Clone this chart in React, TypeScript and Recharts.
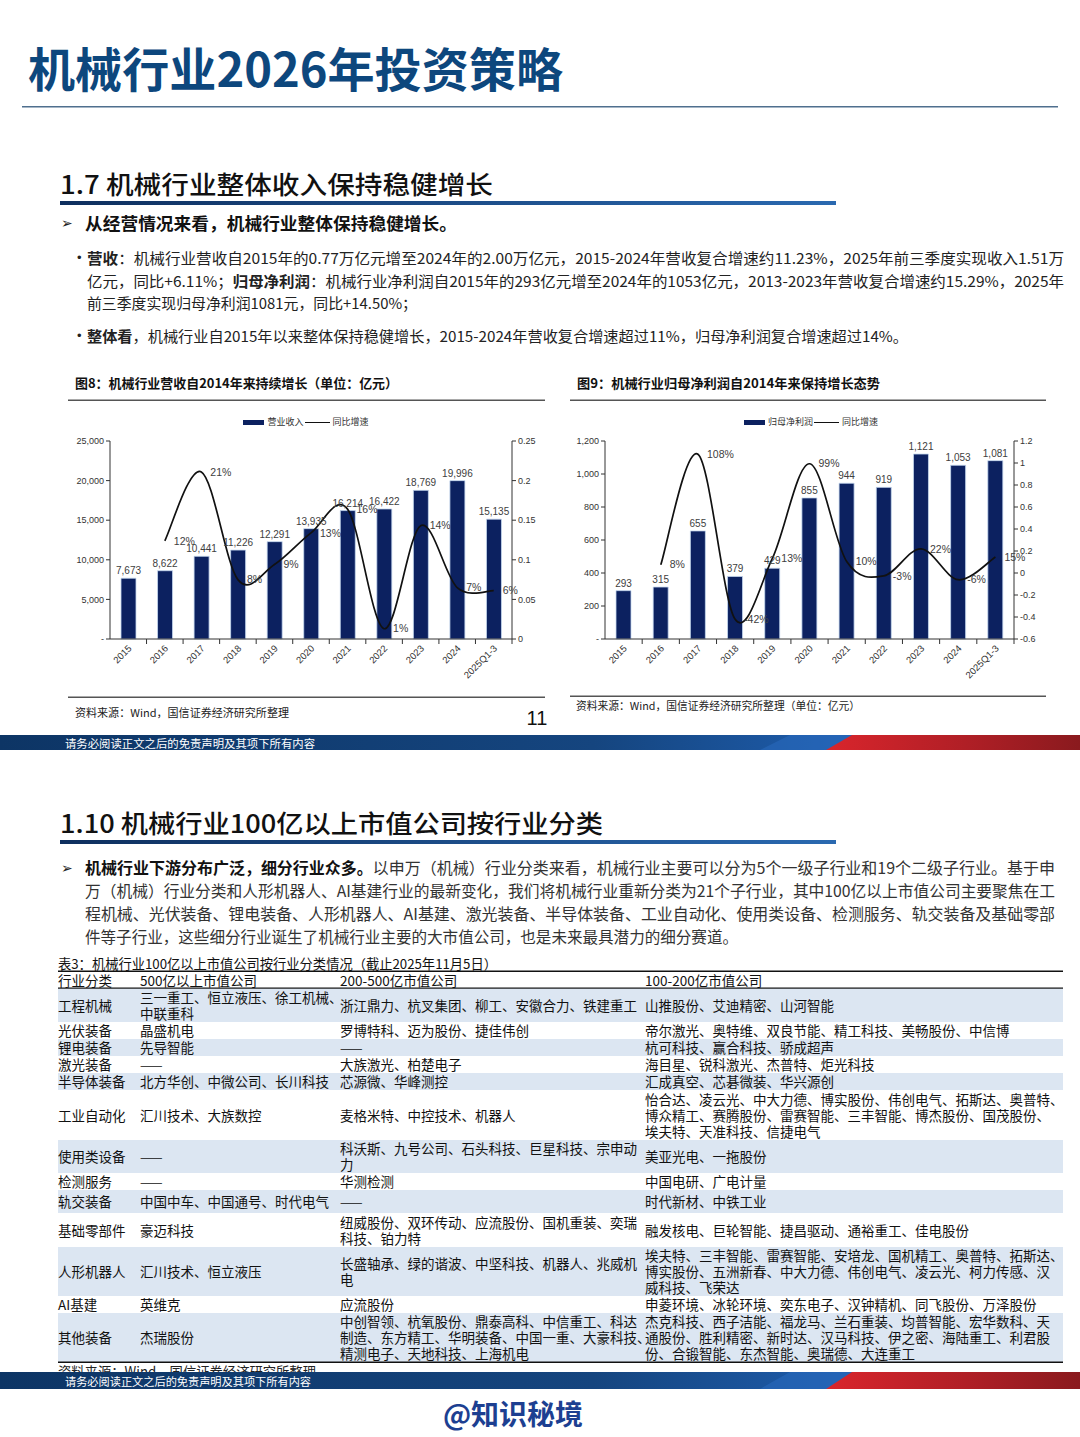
import React from 'react';
import { ComposedChart, Bar, Line, XAxis, YAxis, LabelList, Legend } from 'recharts';

// ---------- chart data ----------
const years = ['2015', '2016', '2017', '2018', '2019', '2020', '2021', '2022', '2023', '2024', '2025Q1-3'];
const revenue = [7673, 8622, 10441, 11226, 12291, 13935, 16214, 16422, 18769, 19996, 15135];
const revenueYoY = [null, 0.124, 0.211, 0.075, 0.094, 0.134, 0.164, 0.013, 0.143, 0.065, 0.061];
const profit = [293, 315, 655, 379, 429, 855, 944, 919, 1121, 1053, 1081];
const profitYoY = [null, 0.075, 1.08, -0.421, 0.132, 0.993, 0.104, -0.026, 0.22, -0.061, 0.1451];

const revenueLeftTicks = [0, 5000, 10000, 15000, 20000, 25000];
const revenueRightTicks = [0, 0.05, 0.1, 0.15, 0.2, 0.25];
const profitLeftTicks = [0, 200, 400, 600, 800, 1000, 1200];
const profitRightTicks = [-0.6, -0.4, -0.2, 0, 0.2, 0.4, 0.6, 0.8, 1, 1.2];

const revenueData = years.map((y, i) => ({ year: y, value: revenue[i], yoy: revenueYoY[i] }));
const profitData = years.map((y, i) => ({ year: y, value: profit[i], yoy: profitYoY[i] }));

// ---------- styles ----------
const FONT_CJK = "'Noto Sans CJK SC', 'Noto Sans', sans-serif";
const FONT_CHART = "'Liberation Sans', Arial, 'Noto Sans CJK SC', sans-serif";
const BAR = '#0c2160';
const AXIS = '#333333';

// Excel-like smoothed line (Catmull-Rom as cubic Bezier)
const excelSmooth: any = (context: any) => {
  let pts: number[][] = [];
  return {
    areaStart() {},
    areaEnd() {},
    lineStart() {
      pts = [];
    },
    lineEnd() {
      const n = pts.length;
      if (!n) return;
      context.moveTo(pts[0][0], pts[0][1]);
      const t = 1 / 6;
      for (let i = 0; i < n - 1; i++) {
        const p0 = pts[i - 1] || pts[i];
        const p1 = pts[i];
        const p2 = pts[i + 1];
        const p3 = pts[i + 2] || p2;
        context.bezierCurveTo(
          p1[0] + (p2[0] - p0[0]) * t,
          p1[1] + (p2[1] - p0[1]) * t,
          p2[0] - (p3[0] - p1[0]) * t,
          p2[1] - (p3[1] - p1[1]) * t,
          p2[0],
          p2[1]
        );
      }
    },
    point(x: number, y: number) {
      pts.push([+x, +y]);
    },
  };
};

const makeXTick = (band: number) => (props: any) => {
  const { x, y, payload } = props;
  const ax = x + 4;
  const ay = y + 10;
  return (
    <g>
      <line x1={x + band / 2} x2={x + band / 2} y1={y} y2={y + 5} stroke={AXIS} strokeWidth={1} />
      <text x={ax} y={ay} textAnchor="end" transform={`rotate(-45, ${ax}, ${ay})`} fontSize={9.5} fill={AXIS}>
        {payload.value}
      </text>
    </g>
  );
};

const LegendContent = (props: any) => {
  const payload = [...(props.payload || [])].sort((a: any, b: any) => (a.type === 'line' ? 1 : 0) - (b.type === 'line' ? 1 : 0));
  return (
    <div
      style={{
        height: 26,
        display: 'flex',
        justifyContent: 'center',
        alignItems: 'flex-start',
        fontSize: 9,
        lineHeight: '14px',
        color: '#333',
        fontFamily: FONT_CJK,
      }}
    >
      {payload.map((p: any, i: number) => (
        <span key={i} style={{ display: 'flex', alignItems: 'flex-start' }}>
          {p.type === 'line' ? (
            <span style={{ display: 'inline-block', width: 25, height: 1.6, background: '#111', margin: '6.5px 3px 0 1px' }} />
          ) : (
            <span style={{ display: 'inline-block', width: 21, height: 5, background: BAR, margin: '4.5px 3px 0 0' }} />
          )}
          <span>{p.value}</span>
        </span>
      ))}
    </div>
  );
};

const leftFmt = (v: number) => (v === 0 ? '-' : v.toLocaleString('en-US'));
const pctFmt = (v: any) => (v == null ? '' : `${Math.round(Number(v) * 100)}%`);
const numFmt = (v: any) => Number(v).toLocaleString('en-US');

type ChartProps = {
  data: any[];
  left: number;
  top: number;
  barName: string;
  leftTicks: number[];
  rightTicks: number[];
  leftW: number;
  rightW: number;
  band: number;
};

function DualChart({ data, left, top, barName, leftTicks, rightTicks, leftW, rightW, band }: ChartProps) {
  return (
    <div style={{ position: 'absolute', left, top }}>
      <ComposedChart
        width={490}
        height={300}
        data={data}
        margin={{ top: 10, right: 3, left: 5, bottom: 11 }}
        style={{ fontFamily: FONT_CHART }}
      >
        <Legend verticalAlign="top" align="center" content={<LegendContent />} />
        <XAxis
          dataKey="year"
          interval={0}
          tickSize={0}
          tickMargin={0}
          height={55}
          axisLine={{ stroke: AXIS }}
          tickLine={false}
          tick={makeXTick(band)}
        />
        <YAxis
          yAxisId="left"
          width={leftW}
          domain={[leftTicks[0], leftTicks[leftTicks.length - 1]]}
          ticks={leftTicks}
          tickFormatter={leftFmt}
          tick={{ fontSize: 9, fill: AXIS }}
          tickSize={4}
          tickMargin={2}
          axisLine={{ stroke: AXIS }}
          tickLine={{ stroke: AXIS }}
          interval={0}
        />
        <YAxis
          yAxisId="right"
          orientation="right"
          width={rightW}
          domain={[rightTicks[0], rightTicks[rightTicks.length - 1]]}
          ticks={rightTicks}
          tickFormatter={(v: number) => String(v)}
          tick={{ fontSize: 9, fill: AXIS }}
          tickSize={4}
          tickMargin={2}
          axisLine={{ stroke: AXIS }}
          tickLine={{ stroke: AXIS }}
          interval={0}
        />
        <Bar
          yAxisId="left"
          dataKey="value"
          name={barName}
          legendType="rect"
          fill={BAR}
          stroke="#c6d9f0"
          strokeWidth={0.8}
          barSize={15}
          isAnimationActive={false}
        >
          <LabelList dataKey="value" position="top" offset={4} formatter={numFmt} fill="#404040" fontSize={10} />
        </Bar>
        <Line
          yAxisId="right"
          dataKey="yoy"
          name="同比增速"
          legendType="line"
          type={excelSmooth}
          stroke="#111"
          strokeWidth={1.7}
          dot={false}
          activeDot={false}
          isAnimationActive={false}
        >
          <LabelList dataKey="yoy" position="right" offset={9} formatter={pctFmt} fill="#404040" fontSize={10.5} />
        </Line>
      </ComposedChart>
    </div>
  );
}

// ---------- table content ----------
const tableCols = [58, 140, 340, 645];
const tableHeader = ['行业分类', '500亿以上市值公司', '200-500亿市值公司', '100-200亿市值公司'];
const tableRows: { y0: number; y1: number; cells: string[][] }[] = [
  { y0: 988, y1: 1022, cells: [['工程机械'], ['三一重工、恒立液压、徐工机械、', '中联重科'], ['浙江鼎力、杭叉集团、柳工、安徽合力、铁建重工'], ['山推股份、艾迪精密、山河智能']] },
  { y0: 1022, y1: 1039, cells: [['光伏装备'], ['晶盛机电'], ['罗博特科、迈为股份、捷佳伟创'], ['帝尔激光、奥特维、双良节能、精工科技、美畅股份、中信博']] },
  { y0: 1039, y1: 1056, cells: [['锂电装备'], ['先导智能'], ['——'], ['杭可科技、赢合科技、骄成超声']] },
  { y0: 1056, y1: 1073, cells: [['激光装备'], ['——'], ['大族激光、柏楚电子'], ['海目星、锐科激光、杰普特、炬光科技']] },
  { y0: 1073, y1: 1090, cells: [['半导体装备'], ['北方华创、中微公司、长川科技'], ['芯源微、华峰测控'], ['汇成真空、芯碁微装、华兴源创']] },
  {
    y0: 1090,
    y1: 1140,
    cells: [
      ['工业自动化'],
      ['汇川技术、大族数控'],
      ['麦格米特、中控技术、机器人'],
      ['怡合达、凌云光、中大力德、博实股份、伟创电气、拓斯达、奥普特、', '博众精工、赛腾股份、雷赛智能、三丰智能、博杰股份、国茂股份、', '埃夫特、天准科技、信捷电气'],
    ],
  },
  { y0: 1140, y1: 1173, cells: [['使用类设备'], ['——'], ['科沃斯、九号公司、石头科技、巨星科技、宗申动', '力'], ['美亚光电、一拖股份']] },
  { y0: 1173, y1: 1190, cells: [['检测服务'], ['——'], ['华测检测'], ['中国电研、广电计量']] },
  { y0: 1190, y1: 1213, cells: [['轨交装备'], ['中国中车、中国通号、时代电气'], ['——'], ['时代新材、中铁工业']] },
  { y0: 1213, y1: 1247, cells: [['基础零部件'], ['豪迈科技'], ['纽威股份、双环传动、应流股份、国机重装、奕瑞', '科技、铂力特'], ['融发核电、巨轮智能、捷昌驱动、通裕重工、佳电股份']] },
  {
    y0: 1247,
    y1: 1296,
    cells: [
      ['人形机器人'],
      ['汇川技术、恒立液压'],
      ['长盛轴承、绿的谐波、中坚科技、机器人、兆威机', '电'],
      ['埃夫特、三丰智能、雷赛智能、安培龙、国机精工、奥普特、拓斯达、', '博实股份、五洲新春、中大力德、伟创电气、凌云光、柯力传感、汉', '威科技、飞荣达'],
    ],
  },
  { y0: 1296, y1: 1313, cells: [['AI基建'], ['英维克'], ['应流股份'], ['申菱环境、冰轮环境、奕东电子、汉钟精机、同飞股份、万泽股份']] },
  {
    y0: 1313,
    y1: 1362,
    cells: [
      ['其他装备'],
      ['杰瑞股份'],
      ['中创智领、杭氧股份、鼎泰高科、中信重工、科达', '制造、东方精工、华明装备、中国一重、大豪科技、', '精测电子、天地科技、上海机电'],
      ['杰克科技、西子洁能、福龙马、兰石重装、均普智能、宏华数科、天', '通股份、胜利精密、新时达、汉马科技、伊之密、海陆重工、利君股', '份、合锻智能、东杰智能、奥瑞德、大连重工'],
    ],
  },
];

const T = (p: any) => {
  const { x, y, size, w, weight, fill, anchor, children, family } = p;
  return (
    <text
      x={x}
      y={y}
      fontSize={size}
      fontWeight={weight || 400}
      fill={fill || '#1a1a1a'}
      dominantBaseline="central"
      textAnchor={anchor || 'start'}
      fontFamily={family || FONT_CJK}
      {...(w ? { textLength: w, lengthAdjust: 'spacingAndGlyphs' } : {})}
    >
      {children}
    </text>
  );
};

const FooterBar = ({ y, h, textY, textW }: { y: number; h: number; textY: number; textW: number }) => (
  <g>
    <rect x={0} y={y} width={1080} height={h} fill="url(#barBlue)" />
    <polygon points={`${790},${y} ${870},${y} ${845},${y + h} ${760},${y + h}`} fill="#2a6cc0" opacity={0.55} />
    <polygon points={`${852},${y} ${1080},${y} ${1080},${y + h} ${826},${y + h}`} fill="url(#barRed)" />
    <T x={65} y={textY} size={11} w={textW} fill="#ffffff">
      请务必阅读正文之后的免责声明及其项下所有内容
    </T>
  </g>
);

export default function App() {
  return (
    <div style={{ position: 'absolute', left: 0, top: 0, width: 1080, height: 1437, background: '#fff', overflow: 'hidden' }}>
      <svg width={1080} height={1437} style={{ position: 'absolute', left: 0, top: 0 }}>
        <defs>
          <linearGradient id="ulGrad" x1="0" y1="0" x2="1" y2="0">
            <stop offset="0%" stopColor="#0e2f5e" />
            <stop offset="100%" stopColor="#2a69b0" />
          </linearGradient>
          <linearGradient id="barBlue" x1="0" y1="0" x2="1" y2="0">
            <stop offset="0%" stopColor="#0d3565" />
            <stop offset="55%" stopColor="#15457f" />
            <stop offset="78%" stopColor="#1e5cab" />
            <stop offset="100%" stopColor="#1e5cab" />
          </linearGradient>
          <linearGradient id="barRed" x1="0" y1="0" x2="1" y2="0">
            <stop offset="0%" stopColor="#d9252c" />
            <stop offset="55%" stopColor="#b01f26" />
            <stop offset="100%" stopColor="#8a1a1e" />
          </linearGradient>
        </defs>

        {/* page header */}
        <T x={28} y={66} size={47} weight={700} fill="#0d477d" w={535}>
          机械行业2026年投资策略
        </T>
        <rect x={22} y={106} width={1036} height={1.5} fill="#4f6f8e" />

        {/* section 1.7 */}
        <T x={60} y={183} size={25} weight={500} fill="#111" w={433}>
          1.7 机械行业整体收入保持稳健增长
        </T>
        <rect x={60} y={201} width={776} height={4} fill="url(#ulGrad)" />
        <T x={61} y={222} size={14} fill="#222">➢</T>
        <T x={85} y={222} size={17} weight={700} fill="#111" w={372}>
          从经营情况来看，机械行业整体保持稳健增长。
        </T>

        <T x={77} y={257} size={13} fill="#222" family={FONT_CHART}>•</T>
        <text x={87} y={257} fontSize={15} fill="#222" dominantBaseline="central" fontFamily={FONT_CJK} textLength={977} lengthAdjust="spacingAndGlyphs">
          <tspan fontWeight={700}>营收</tspan>
          ：机械行业营收自2015年的0.77万亿元增至2024年的2.00万亿元，2015-2024年营收复合增速约11.23%，2025年前三季度实现收入1.51万
        </text>
        <text x={87} y={280} fontSize={15} fill="#222" dominantBaseline="central" fontFamily={FONT_CJK} textLength={977} lengthAdjust="spacingAndGlyphs">
          亿元，同比+6.11%；<tspan fontWeight={700}>归母净利润</tspan>
          ：机械行业净利润自2015年的293亿元增至2024年的1053亿元，2013-2023年营收复合增速约15.29%，2025年
        </text>
        <T x={87} y={302} size={15} fill="#222" w={330}>
          前三季度实现归母净利润1081元，同比+14.50%；
        </T>
        <T x={77} y={335} size={13} fill="#222" family={FONT_CHART}>•</T>
        <text x={87} y={335} fontSize={15} fill="#222" dominantBaseline="central" fontFamily={FONT_CJK} textLength={821} lengthAdjust="spacingAndGlyphs">
          <tspan fontWeight={700}>整体看</tspan>
          ，机械行业自2015年以来整体保持稳健增长，2015-2024年营收复合增速超过11%，归母净利润复合增速超过14%。
        </text>

        {/* chart frames */}
        <T x={75} y={382} size={13} weight={700} fill="#111" w={323}>
          图8：机械行业营收自2014年来持续增长（单位：亿元）
        </T>
        <rect x={68} y={399.5} width={477} height={1.5} fill="#555" />
        <rect x={68} y={696.5} width={477} height={1.5} fill="#555" />
        <T x={75} y={712} size={11} fill="#222" w={214}>
          资料来源：Wind，国信证券经济研究所整理
        </T>
        <T x={537} y={718} size={20} fill="#111" anchor="middle" family={FONT_CHART}>
          11
        </T>

        <T x={577} y={382} size={13} weight={700} fill="#111" w={303}>
          图9：机械行业归母净利润自2014年来保持增长态势
        </T>
        <rect x={570} y={399.5} width={476} height={1.5} fill="#555" />
        <rect x={570} y={695.5} width={476} height={1.5} fill="#555" />
        <T x={576} y={705} size={11} fill="#222" w={284}>
          资料来源：Wind，国信证券经济研究所整理（单位：亿元）
        </T>

        <FooterBar y={735} h={15} textY={742.5} textW={250} />

        {/* section 1.10 */}
        <T x={60} y={822} size={25} weight={500} fill="#111" w={543}>
          1.10 机械行业100亿以上市值公司按行业分类
        </T>
        <rect x={60} y={840} width={776} height={4} fill="url(#ulGrad)" />
        <T x={61} y={867} size={14} fill="#222">➢</T>
        <text x={85} y={867} fontSize={16} fill="#333" dominantBaseline="central" fontFamily={FONT_CJK} textLength={970} lengthAdjust="spacingAndGlyphs">
          <tspan fontWeight={700} fill="#111">机械行业下游分布广泛，细分行业众多。</tspan>
          以申万（机械）行业分类来看，机械行业主要可以分为5个一级子行业和19个二级子行业。基于申
        </text>
        <T x={85} y={890} size={16} fill="#333" w={970}>
          万（机械）行业分类和人形机器人、AI基建行业的最新变化，我们将机械行业重新分类为21个子行业，其中100亿以上市值公司主要聚焦在工
        </T>
        <T x={85} y={913} size={16} fill="#333" w={970}>
          程机械、光伏装备、锂电装备、人形机器人、AI基建、激光装备、半导体装备、工业自动化、使用类设备、检测服务、轨交装备及基础零部
        </T>
        <T x={85} y={936} size={16} fill="#333" w={653}>
          件等子行业，这些细分行业诞生了机械行业主要的大市值公司，也是未来最具潜力的细分赛道。
        </T>

        {/* table */}
        <T x={58} y={962.5} size={13.5} fill="#111" w={439}>
          表3：机械行业100亿以上市值公司按行业分类情况（截止2025年11月5日）
        </T>
        {tableRows.map((r, i) =>
          i % 2 === 0 ? <rect key={'bg' + i} x={58} y={r.y0} width={1005} height={r.y1 - r.y0} fill="#dce6f2" /> : null
        )}
        <rect x={58} y={970.5} width={1005} height={1.5} fill="#111" />
        <rect x={58} y={987.5} width={1005} height={1.2} fill="#111" />
        <rect x={58} y={1361.5} width={1005} height={1.5} fill="#111" />
        {tableHeader.map((h, c) => (
          <T key={'h' + c} x={tableCols[c]} y={979.5} size={13.5} fill="#111">
            {h}
          </T>
        ))}
        {tableRows.map((r, i) =>
          r.cells.map((lines, c) => {
            const mid = (r.y0 + r.y1) / 2 - 0.5;
            return lines.map((ln, k) => (
              <T key={`c${i}-${c}-${k}`} x={tableCols[c]} y={mid + (k - (lines.length - 1) / 2) * 16} size={13.5} fill="#111">
                {ln}
              </T>
            ));
          })
        )}
        <T x={58} y={1371} size={14} fill="#222" w={258}>
          资料来源：Wind，国信证券经济研究所整理
        </T>
        <FooterBar y={1372} h={17} textY={1380.5} textW={246} />

        <T x={513} y={1413} size={28} weight={700} fill="#1d3f91" anchor="middle">
          @知识秘境
        </T>
      </svg>

      <DualChart
        data={revenueData}
        left={60}
        top={405}
        barName="营业收入"
        leftTicks={revenueLeftTicks}
        rightTicks={revenueRightTicks}
        leftW={45}
        rightW={35}
        band={402 / 11}
      />
      <DualChart
        data={profitData}
        left={565}
        top={405}
        barName="归母净利润"
        leftTicks={profitLeftTicks}
        rightTicks={profitRightTicks}
        leftW={35}
        rightW={38}
        band={409 / 11}
      />
    </div>
  );
}
